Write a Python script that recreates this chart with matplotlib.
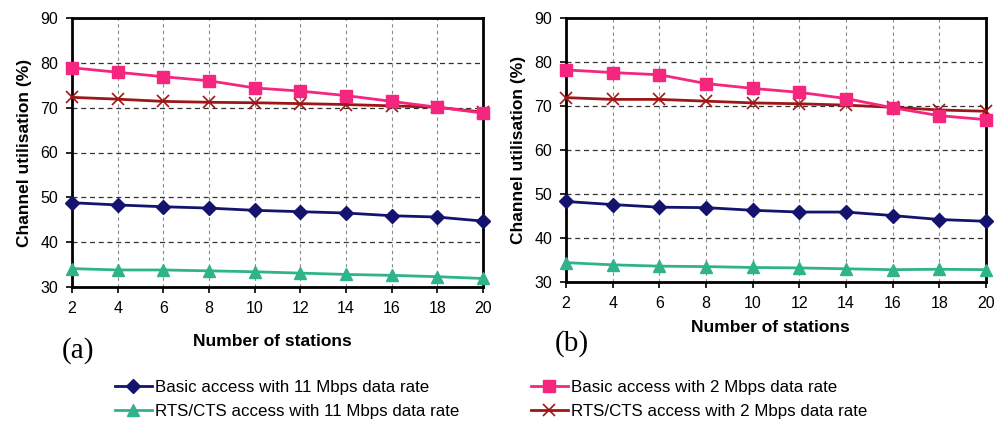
import matplotlib
matplotlib.use("Agg")
import matplotlib.pyplot as plt
from matplotlib.lines import Line2D

plt.rcParams["font.family"] = ["Liberation Sans", "DejaVu Sans"]

stations = [2, 4, 6, 8, 10, 12, 14, 16, 18, 20]

# (a)
basic_11_a = [48.8, 48.3, 47.9, 47.6, 47.1, 46.8, 46.5, 45.9, 45.6, 44.7]
basic_2_a = [78.9, 77.9, 76.9, 76.0, 74.4, 73.7, 72.7, 71.4, 70.1, 68.8]
rts_11_a = [34.1, 33.8, 33.8, 33.6, 33.4, 33.1, 32.8, 32.6, 32.3, 31.9]
rts_2_a = [72.3, 71.9, 71.4, 71.2, 71.1, 70.9, 70.7, 70.4, 70.1, 69.0]

# (b)
basic_11_b = [48.3, 47.6, 47.0, 46.9, 46.3, 45.9, 45.9, 45.1, 44.2, 43.8]
basic_2_b = [78.2, 77.6, 77.1, 75.1, 74.0, 73.1, 71.7, 69.6, 67.8, 66.9]
rts_11_b = [34.4, 33.9, 33.6, 33.5, 33.3, 33.2, 33.0, 32.8, 32.9, 32.8]
rts_2_b = [71.9, 71.5, 71.5, 71.1, 70.7, 70.5, 70.2, 69.7, 69.1, 68.8]

series_labels = [
    "Basic access with 11 Mbps data rate",
    "RTS/CTS access with 11 Mbps data rate",
    "Basic access with 2 Mbps data rate",
    "RTS/CTS access with 2 Mbps data rate",
]

NAVY = "#14146e"
GREEN = "#2fb38a"
PINK = "#f5267e"
DRED = "#9e1616"

styles = [
    dict(color=NAVY, marker="D", markersize=7, mfc=NAVY, mec=NAVY),
    dict(color=GREEN, marker="^", markersize=8.5, mfc=GREEN, mec=GREEN),
    dict(color=PINK, marker="s", markersize=8.5, mfc=PINK, mec=PINK),
    dict(color=DRED, marker="x", markersize=8.5, mfc=DRED, mec=DRED, mew=1.2),
]

W, H = 995, 428
fig = plt.figure(figsize=(W / 100, H / 100), dpi=100)


def panel(rect, data):
    ax = fig.add_axes([rect[0] / W, 1 - rect[3] / H,
                       (rect[2] - rect[0]) / W, (rect[3] - rect[1]) / H])
    # draw the 2 Mbps curves last so they sit on top
    for i in [0, 1, 3, 2]:
        ax.plot(stations, data[i], lw=2.0, zorder=3, clip_on=False,
                **styles[i])
    ax.set_xlim(2, 20)
    ax.set_ylim(30, 90)
    ax.set_xticks(stations)
    ax.set_yticks(range(30, 91, 10))
    ax.grid(True, ls=(0, (4, 3)), color="#333333", lw=0.9)
    ax.xaxis.grid(True, ls=(0, (3, 3)), color="#888888", lw=0.8)
    for s in ax.spines.values():
        s.set_linewidth(2.0)
        s.set_color("black")
    ax.tick_params(labelsize=11.5, length=4, width=1.2, pad=6)
    ax.set_ylabel("Channel utilisation (%)", fontsize=12.5,
                  fontweight="bold", labelpad=6)
    return ax


ax_a = panel((72, 18, 483, 287),
             [basic_11_a, rts_11_a, basic_2_a, rts_2_a])
ax_b = panel((566, 18, 986, 282),
             [basic_11_b, rts_11_b, basic_2_b, rts_2_b])

fig.text(272 / W, 1 - 342 / H, "Number of stations", ha="center",
         va="center", fontsize=12.5, fontweight="bold")
fig.text(770 / W, 1 - 328 / H, "Number of stations", ha="center",
         va="center", fontsize=12.5, fontweight="bold")
fig.text(78 / W, 1 - 351 / H, "(a)", ha="center", va="center",
         fontsize=21, family=["Liberation Serif", "DejaVu Serif"])
fig.text(572 / W, 1 - 344 / H, "(b)", ha="center", va="center",
         fontsize=21, family=["Liberation Serif", "DejaVu Serif"])

handles = [Line2D([], [], lw=2.0, **st) for st in styles]
leg_kw = dict(frameon=False, ncol=1, handlelength=2.2, handletextpad=0.2,
              labelspacing=0.55, prop=dict(size=12.2),
              borderaxespad=0)
fig.legend(handles[:2], series_labels[:2], loc="upper left",
           bbox_to_anchor=(108 / W, 1 - 373 / H), **leg_kw)
fig.legend(handles[2:], series_labels[2:], loc="upper left",
           bbox_to_anchor=(524 / W, 1 - 373 / H), **leg_kw)

fig.savefig("out.png", dpi=100)
